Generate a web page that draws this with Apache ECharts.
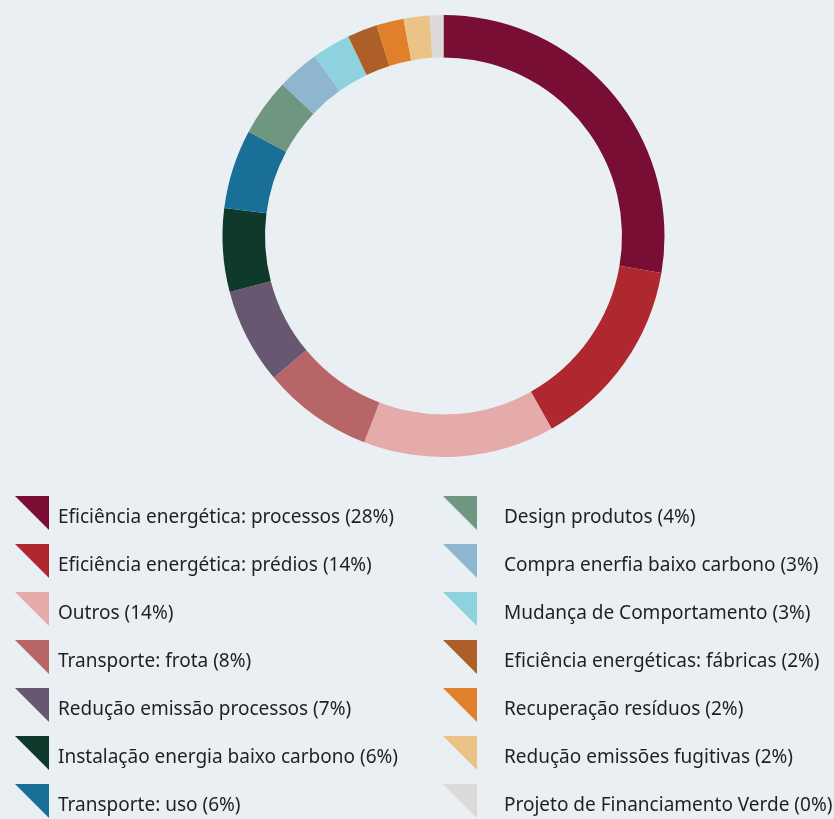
<!DOCTYPE html>
<html>
<head>
<meta charset="utf-8">
<script src="https://cdn.jsdelivr.net/npm/echarts@6/dist/echarts.min.js"></script>
<style>
  html, body { margin: 0; padding: 0; background: #e9eff2; }
  #chart { width: 834px; height: 819px; }
</style>
</head>
<body>
<div id="chart"></div>
<script>
// categorias (legenda) e valores
var categories = [
    'Eficiência energética: processos (28%)',
    'Eficiência energética: prédios (14%)',
    'Outros (14%)',
    'Transporte: frota (8%)',
    'Redução emissão processos (7%)',
    'Instalação energia baixo carbono (6%)',
    'Transporte: uso (6%)',
    'Design produtos (4%)',
    'Compra enerfia baixo carbono (3%)',
    'Mudança de Comportamento (3%)',
    'Eficiência energéticas: fábricas (2%)',
    'Recuperação resíduos (2%)',
    'Redução emissões fugitivas (2%)',
    'Projeto de Financiamento Verde (0%)'
];
var values = [27.7, 14.2, 14.0, 8.1, 7.0, 6.1, 5.8, 4.2, 3.1, 2.8, 2.2, 2.0, 1.9, 1.0];
var colors = [
    '#790e34', '#b0282f', '#e4abaa', '#b86567', '#685771', '#0f3a2b', '#196f95',
    '#6f9681', '#8fb6cf', '#8dd2de', '#ad5f27', '#e0802b', '#ebc386', '#dcdad8'
];

function renderDonut() {
    var dom = document.getElementById('chart');
    var myChart = echarts.init(dom);
    var option;

    var seriesData = categories.map(function (name, i) {
        return { name: name, value: values[i] };
    });

    function legendCol(left, data, padLeft) {
        return {
            orient: 'vertical',
            left: left,
            top: 496,
            padding: 0,
            itemWidth: 34,
            itemHeight: 34,
            itemGap: 14,
            icon: 'path://M0,0 L10,0 L10,10 Z',
            selectedMode: false,
            data: data,
            formatter: '{t|{name}}',
            textStyle: {
                fontFamily: 'Noto Sans',
                fontSize: 19,
                color: '#231f20',
                rich: {
                    t: {
                        fontFamily: 'Noto Sans',
                        fontSize: 19,
                        color: '#231f20',
                        padding: [9, 0, 0, padLeft]
                    }
                }
            }
        };
    }

    option = {
        backgroundColor: '#e9eff2',
        color: colors,
        animation: false,
        legend: [
            legendCol(15, categories.slice(0, 7), 4),
            legendCol(443, categories.slice(7), 22)
        ],
        series: [{
            type: 'pie',
            center: [443.5, 236],
            radius: [178.5, 221],
            startAngle: 90,
            clockwise: true,
            avoidLabelOverlap: false,
            label: { show: false },
            labelLine: { show: false },
            emphasis: { disabled: true },
            itemStyle: { borderWidth: 0 },
            data: seriesData
        }]
    };

    if (option && typeof option === 'object') {
        myChart.setOption(option);
    }
}
renderDonut();
</script>
</body>
</html>
